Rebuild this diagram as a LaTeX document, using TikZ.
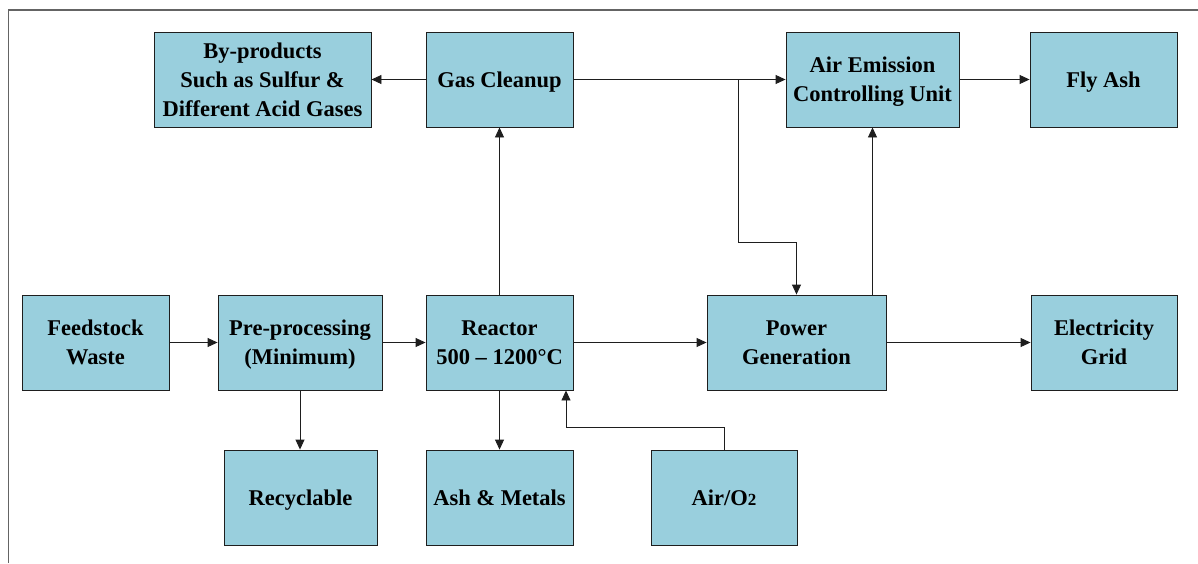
\documentclass[tikz,border=0pt]{standalone}
\usepackage{fontspec}
\setmainfont{Liberation Serif}
\usetikzlibrary{arrows.meta}
\definecolor{boxfill}{RGB}{153,207,221}
\definecolor{edgecol}{RGB}{30,30,30}
\definecolor{framecol}{RGB}{100,100,100}
\begin{document}
\begin{tikzpicture}[x=1pt,y=-1pt,
  box/.style={draw=edgecol, line width=0.9pt, fill=boxfill, inner sep=0pt,
    minimum height=95pt, align=center, text height=15pt, text depth=0pt,
    font=\fontsize{22.5}{29}\selectfont\bfseries},
  twol/.style={text height=44pt},
  threel/.style={text height=73pt},
  flow/.style={draw=edgecol, line width=0.9pt, -{Triangle[length=10pt,width=9pt]}},
  framel/.style={draw=framecol, line width=1.4pt}]
\useasboundingbox (0,0) rectangle (1198,563);
\draw[framel] (8.5,563) -- (8.5,10) -- (1198,10);
% top row
\node[box, threel, minimum width=217pt] (byp) at (262.5,79.5) {By-products\\Such as Sulfur \&\\Different Acid Gases};
\node[box, minimum width=147pt] (gas) at (499.5,79.5) {Gas Cleanup};
\node[box, twol, minimum width=173pt] (air) at (872.5,79.5) {Air Emission\\Controlling Unit};
\node[box, minimum width=147pt] (fly) at (1103.5,79.5) {Fly Ash};
% middle row
\node[box, twol, minimum width=147pt] (feed) at (95.5,342.5) {Feedstock\\Waste};
\node[box, twol, minimum width=164pt] (pre) at (300,342.5) {Pre-processing\\(Minimum)};
\node[box, twol, minimum width=147pt] (reac) at (499.5,342.5) {Reactor\\500 -- 1200°C};
\node[box, twol, minimum width=179pt] (pow) at (796.5,342.5) {Power\\Generation};
\node[box, twol, minimum width=146pt] (elec) at (1104,342.5) {Electricity\\Grid};
% bottom row
\node[box, minimum width=153pt] (rec) at (300.5,497.5) {Recyclable};
\node[box, minimum width=147pt] (ash) at (499.5,497.5) {Ash \& Metals};
\node[box, minimum width=146pt] (airo) at (724,497.5) {Air/O{\fontsize{17}{20}\selectfont 2}};
% connectors
\coordinate (br) at (738,79.5);
\coordinate (brd) at (738,242);
\coordinate (ain) at (724,427);
\coordinate (rin) at (566,427);
\draw[flow] (gas) -- (byp);
\draw[flow] (gas) -- (air);
\draw[flow] (air) -- (fly);
\draw[flow] (reac) -- (gas);
\draw[flow] (br) -- (brd) -| (pow.north);
\draw[flow] (pow.north -| air.south) -- (air.south);
\draw[flow] (feed) -- (pre);
\draw[flow] (pre) -- (reac);
\draw[flow] (reac) -- (pow);
\draw[flow] (pow) -- (elec);
\draw[flow] (pre.south) -- (pre.south |- rec.north);
\draw[flow] (reac) -- (ash);
\draw[flow] (airo.north) -- (ain) -- (rin) -- (rin |- reac.south);
\end{tikzpicture}
\end{document}
